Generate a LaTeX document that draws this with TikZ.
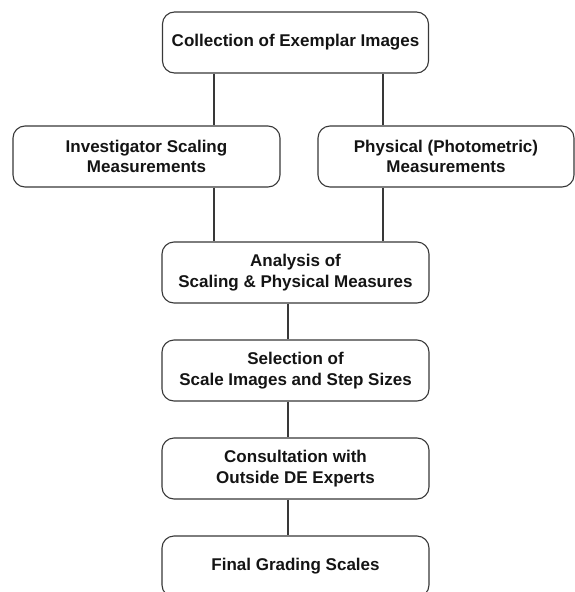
\documentclass[tikz,border=0pt]{standalone}
\usepackage{fontspec}
\setmainfont{Liberation Sans}
\begin{document}
\begin{tikzpicture}[x=1pt,y=-1pt,
  flowbox/.style={draw=black!78, line width=1.1pt, rounded corners=12pt,
    align=center, inner sep=0pt, minimum height=61pt,
    font=\fontsize{17}{20.5}\selectfont\bfseries, text=black!92},
  link/.style={draw=black!78, line width=1.1pt}]
\useasboundingbox (0,0) rectangle (575,592);
\clip (0,0) rectangle (575,592);
\node[flowbox, minimum width=266pt] (top) at (295.5,42.5) {Collection of Exemplar Images};
\node[flowbox, minimum width=267pt] (left) at (146.5,156.5) {Investigator Scaling\\Measurements};
\node[flowbox, minimum width=256pt] (right) at (446,156.5) {Physical (Photometric)\\Measurements};
\node[flowbox, minimum width=267pt] (analysis) at (295.5,272.5) {Analysis of\\Scaling \& Physical Measures};
\node[flowbox, minimum width=267pt] (selection) at (295.5,370.5) {Selection of\\Scale Images and Step Sizes};
\node[flowbox, minimum width=267pt] (consult) at (295.5,468.5) {Consultation with\\Outside DE Experts};
\node[flowbox, minimum width=267pt] (final) at (295.5,566.5) {Final Grading Scales};
\coordinate (cl) at (214,0);
\coordinate (cr) at (383,0);
\coordinate (cm) at (288,0);
\draw[link] (top.south -| cl) -- (left.north -| cl);
\draw[link] (top.south -| cr) -- (right.north -| cr);
\draw[link] (left.south -| cl) -- (analysis.north -| cl);
\draw[link] (right.south -| cr) -- (analysis.north -| cr);
\draw[link] (analysis.south -| cm) -- (selection.north -| cm);
\draw[link] (selection.south -| cm) -- (consult.north -| cm);
\draw[link] (consult.south -| cm) -- (final.north -| cm);
\end{tikzpicture}
\end{document}
